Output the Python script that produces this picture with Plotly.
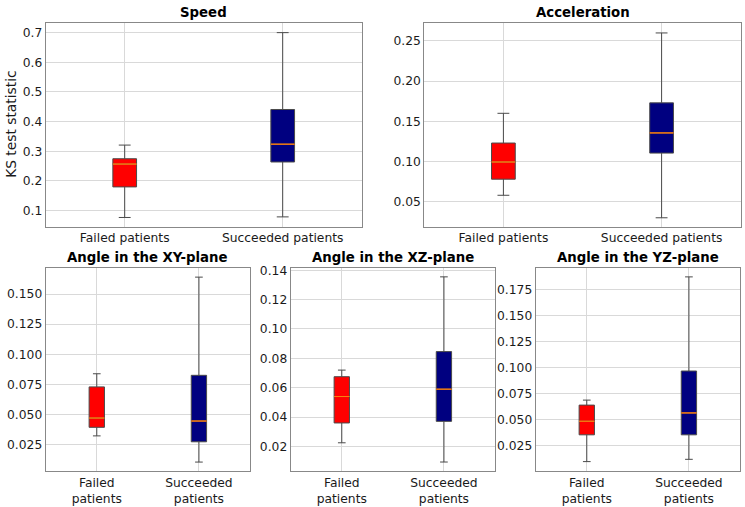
import plotly.graph_objects as go

# ---------------- data ----------------
groups = ["Failed patients", "Succeeded patients"]
tick_top = ["Failed patients", "Succeeded patients"]
tick_bottom = ["Failed<br>patients", "Succeeded<br>patients"]
titles = ["Speed", "Acceleration", "Angle in the XY-plane", "Angle in the XZ-plane", "Angle in the YZ-plane"]

# per panel: [failed, succeeded]
lower = [[0.077, 0.079], [0.058, 0.030], [0.0324, 0.0107], [0.0225, 0.0094], [0.0098, 0.012]]
q1 = [[0.180, 0.264], [0.078, 0.1105], [0.0395, 0.0275], [0.036, 0.0371], [0.0355, 0.0355]]
median = [[0.257, 0.324], [0.0994, 0.1356], [0.0472, 0.0447], [0.054, 0.059], [0.0485, 0.0565]]
q3 = [[0.275, 0.441], [0.123, 0.173], [0.073, 0.0826], [0.0675, 0.0846], [0.064, 0.0967]]
upper = [[0.321, 0.700], [0.160, 0.260], [0.0839, 0.164], [0.072, 0.1355], [0.0688, 0.187]]

y_ranges = [[0.0465, 0.732], [0.0191, 0.2722], [0.0033, 0.1719], [0.0033, 0.1418], [0.0008, 0.1959]]
y_ticks = [[0.1, 0.2, 0.3, 0.4, 0.5, 0.6, 0.7],
           [0.05, 0.10, 0.15, 0.20, 0.25],
           [0.025, 0.050, 0.075, 0.100, 0.125, 0.150],
           [0.02, 0.04, 0.06, 0.08, 0.10, 0.12, 0.14],
           [0.025, 0.050, 0.075, 0.100, 0.125, 0.150, 0.175]]
y_tickfmt = [".1f", ".2f", ".3f", ".2f", ".3f"]

fill_colors = ["#ff0000", "#000080"]
W, H = 745, 507
# panel pixel boxes: (left, right, top, bottom)
panels_px = [(45.7, 361.7, 19.3, 224.3), (424.3, 740.7, 19.3, 224.3),
             (45.7, 250.0, 265.7, 470.7), (290.7, 495.0, 265.7, 470.7),
             (535.7, 740.0, 265.7, 470.7)]

fig = go.Figure()
FONT = "DejaVu Sans"
annotations = []
for i in range(5):
    l, r, t, b = panels_px[i]
    xa = "x" if i == 0 else f"x{i+1}"
    ya = "y" if i == 0 else f"y{i+1}"
    for g in range(2):
        fig.add_trace(go.Box(
            x=[groups[g]], q1=[q1[i][g]], median=[median[i][g]], q3=[q3[i][g]],
            lowerfence=[lower[i][g]], upperfence=[upper[i][g]],
            fillcolor=fill_colors[g], line=dict(color="#4a4a4a", width=1),
            width=0.15, whiskerwidth=0.5, boxpoints=False,
            xaxis=xa, yaxis=ya, showlegend=False, hoverinfo="skip"))
        # orange median line overlay
        fig.add_trace(go.Box(
            x=[groups[g]], q1=[median[i][g]], median=[median[i][g]], q3=[median[i][g]],
            lowerfence=[median[i][g]], upperfence=[median[i][g]],
            fillcolor="rgba(0,0,0,0)", line=dict(color="#ff7f0e", width=0.7),
            width=0.15, whiskerwidth=0, boxpoints=False,
            xaxis=xa, yaxis=ya, showlegend=False, hoverinfo="skip"))
    axis_common = dict(showline=True, mirror=True, linecolor="#888888", linewidth=1,
                       showgrid=True, gridcolor="#d9d9d9", gridwidth=1, zeroline=False,
                       ticks="", tickfont=dict(family=FONT, size=12.3, color="#1a1a1a"))
    xkey = "xaxis" if i == 0 else f"xaxis{i+1}"
    ykey = "yaxis" if i == 0 else f"yaxis{i+1}"
    fig.layout[xkey] = dict(axis_common, domain=[l / W, r / W], anchor=ya,
                            type="category", categoryorder="array", categoryarray=groups,
                            range=[-0.5, 1.5], tickvals=groups,
                            ticktext=tick_top if i < 2 else tick_bottom)
    fig.layout[ykey] = dict(axis_common, domain=[1 - b / H, 1 - t / H], anchor=xa,
                            range=y_ranges[i], tickvals=y_ticks[i], tickformat=y_tickfmt[i])
    annotations.append(dict(text="<b>" + titles[i] + "</b>", x=(l + r) / 2 / W, y=1 - t / H,
                            xref="paper", yref="paper", xanchor="center", yanchor="bottom",
                            yshift=1, showarrow=False,
                            font=dict(family=FONT, size=13.3, color="#000000")))

annotations.append(dict(text="KS test statistic", x=11 / W, y=1 - 121.8 / H, xref="paper", yref="paper",
                        xanchor="center", yanchor="middle", textangle=-90, showarrow=False,
                        font=dict(family=FONT, size=13.8, color="#1a1a1a")))

fig.update_layout(width=W, height=H, margin=dict(l=0, r=0, t=0, b=0),
                  paper_bgcolor="white", plot_bgcolor="white", boxmode="overlay",
                  annotations=annotations, font=dict(family=FONT))
fig.write_html("out.html")
